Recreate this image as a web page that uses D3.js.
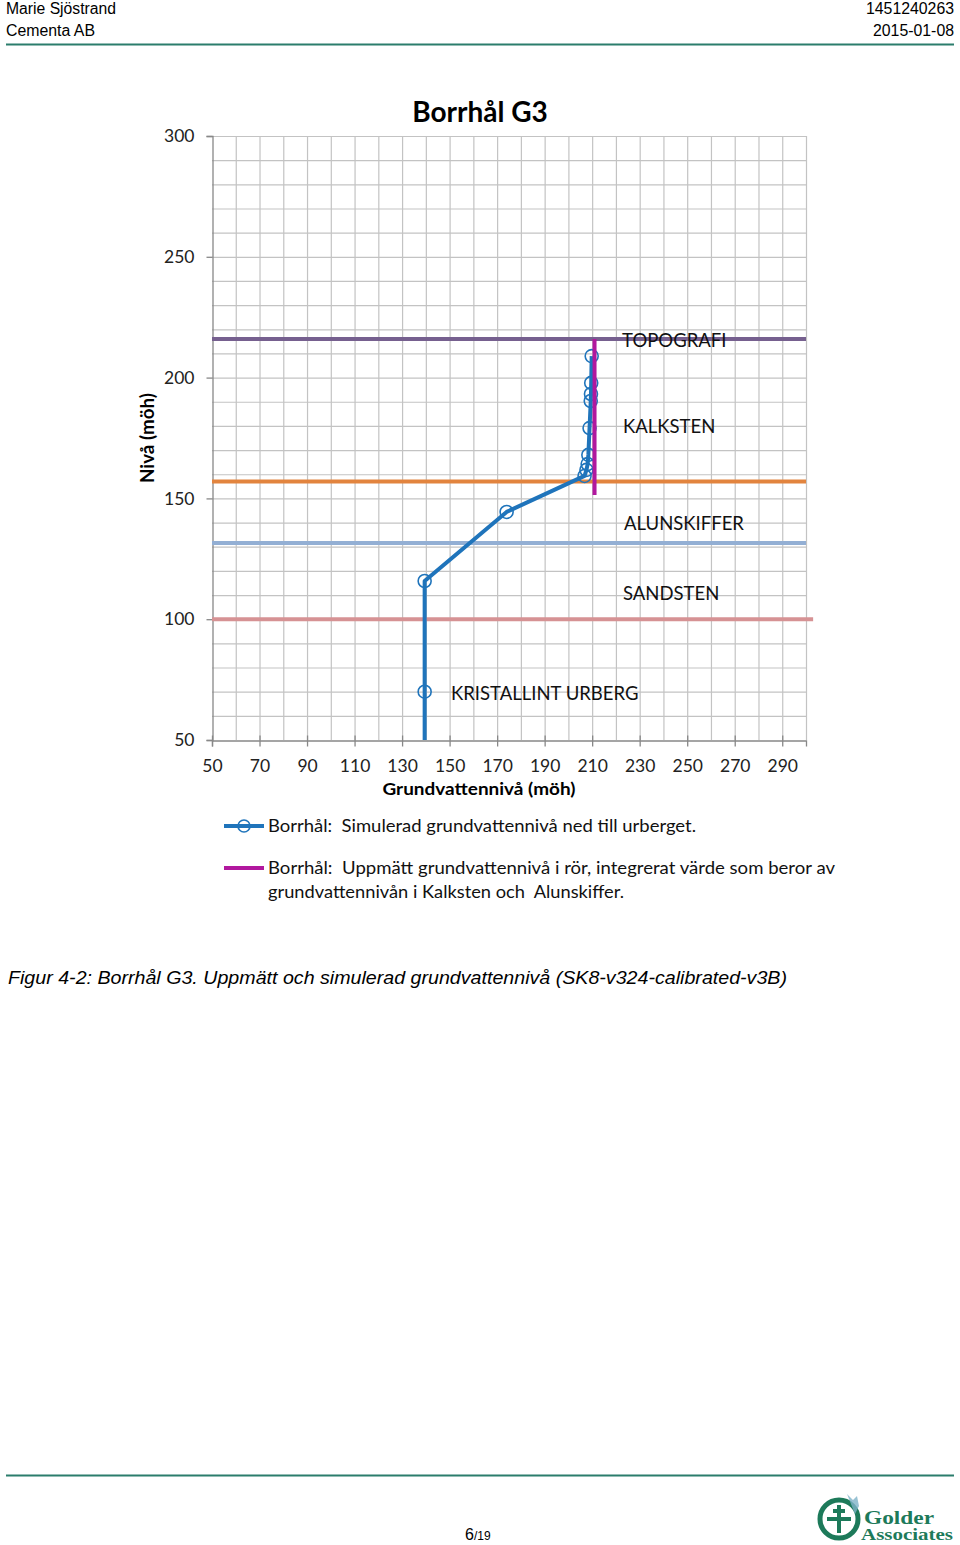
<!DOCTYPE html>
<html>
<head>
<meta charset="utf-8">
<script src="https://cdn.jsdelivr.net/npm/d3@7"></script>
<style>
  body { margin: 0; background: #fff; }
  svg { display: block; }
  text { white-space: pre; }
</style>
</head>
<body>
<svg></svg>
<script>
// simulated groundwater level (blue, with markers)
const simX = [139.5, 139.5, 139.5, 174, 206.8, 207.6, 208.1, 208.4, 208.9, 209.4, 209.5, 209.6, 209.8];
const simY = [40, 70, 115.8, 144.4, 159.3, 161.8, 164.2, 168.0, 179.1, 190.3, 193.2, 197.8, 208.9];

// measured level in the pipe (magenta)
const measX = [211, 211];
const measY = [151.4, 216];

// geological layer boundaries
const layerLevels = [216, 157, 131.5, 100];
const layerEnds = [300, 300, 300, 303];
const layerColors = ['#76608f', '#e2843e', '#93afd4', '#d69294'];

const layerNames = ['TOPOGRAFI', 'KALKSTEN', 'ALUNSKIFFER', 'SANDSTEN', 'KRISTALLINT URBERG'];
const layerLabelX = [222.6, 223, 223.4, 223, 150.6];
const layerLabelY = [215.2, 179.6, 139.8, 110.8, 69.4];

const xTicks = [50, 70, 90, 110, 130, 150, 170, 190, 210, 230, 250, 270, 290];
const yTicks = [50, 100, 150, 200, 250, 300];

const W = 960, H = 1545;
const plot = { left: 212, right: 806, top: 136, bottom: 740 };

const svg = d3.select('svg').attr('width', W).attr('height', H);

const x = d3.scaleLinear().domain([50, 300]).range([plot.left, plot.right]);
const y = d3.scaleLinear().domain([50, 300]).range([plot.bottom, plot.top]);

const teal = '#2b7d6c';
const font = 'Lato, "Open Sans", sans-serif';
const arial = '"Liberation Sans", Arial, sans-serif';

// page header
svg.append('text').attr('x', 6).attr('y', 14).text('Marie Sjöstrand')
	.attr('font-family', arial).attr('font-size', 16).attr('textLength', 110).attr('lengthAdjust', 'spacingAndGlyphs');
svg.append('text').attr('x', 6).attr('y', 36).text('Cementa AB')
	.attr('font-family', arial).attr('font-size', 16).attr('textLength', 89).attr('lengthAdjust', 'spacingAndGlyphs');
svg.append('text').attr('x', 954).attr('y', 14).text('1451240263').attr('text-anchor', 'end')
	.attr('font-family', arial).attr('font-size', 16).attr('textLength', 88).attr('lengthAdjust', 'spacingAndGlyphs');
svg.append('text').attr('x', 954).attr('y', 36).text('2015-01-08').attr('text-anchor', 'end')
	.attr('font-family', arial).attr('font-size', 16).attr('textLength', 81).attr('lengthAdjust', 'spacingAndGlyphs');
svg.append('line').attr('x1', 6).attr('x2', 954).attr('y1', 44.5).attr('y2', 44.5)
	.attr('stroke', teal).attr('stroke-width', 2);

// title
svg.append('text').attr('x', 480).attr('y', 122).attr('text-anchor', 'middle')
	.attr('font-family', font).attr('font-weight', 'bold').attr('font-size', 28)
	.text('Borrhål G3');

// grid
const g = svg.append('g');
g.selectAll('line.gx')
	.data(d3.range(60, 301, 10))
	.enter().append('line')
	.attr('class', 'gx')
	.attr('x1', d => x(d) + 0.5).attr('x2', d => x(d) + 0.5)
	.attr('y1', plot.top).attr('y2', plot.bottom)
	.attr('stroke', '#c3c3c3').attr('stroke-width', 1.2);
g.selectAll('line.gy')
	.data(d3.range(60, 301, 10))
	.enter().append('line')
	.attr('class', 'gy')
	.attr('x1', plot.left).attr('x2', plot.right + 0.5)
	.attr('y1', d => y(d) + 0.5).attr('y2', d => y(d) + 0.5)
	.attr('stroke', '#c3c3c3').attr('stroke-width', 1.2);

// axes
const axisColor = '#888';
const yAxis = g.append('g').attr('transform', `translate(${plot.left + 0.5},0)`)
	.call(d3.axisLeft(y).tickValues(yTicks).tickSize(6).tickPadding(12));
const xAxis = g.append('g').attr('transform', `translate(0,${plot.bottom + 0.5})`)
	.call(d3.axisBottom(x).tickValues(xTicks).tickSize(6).tickPadding(13));
[xAxis, yAxis].forEach(a => {
	a.select('.domain').attr('stroke', axisColor).attr('stroke-width', 1.3);
	a.selectAll('.tick line').attr('stroke', axisColor).attr('stroke-width', 1.3);
	a.selectAll('.tick text').attr('font-family', font).attr('font-size', 17.5).attr('fill', '#222');
});
xAxis.selectAll('.tick line').attr('y1', -5);

// axis titles
svg.append('text').attr('x', 479).attr('y', 795).attr('text-anchor', 'middle')
	.attr('font-family', font).attr('font-weight', 'bold').attr('font-size', 17.5)
	.attr('textLength', 193).attr('lengthAdjust', 'spacingAndGlyphs')
	.text('Grundvattennivå (möh)');
svg.append('text').attr('transform', 'translate(154,438) rotate(-90)').attr('text-anchor', 'middle')
	.attr('font-family', font).attr('font-weight', 'bold').attr('font-size', 18)
	.attr('textLength', 90).attr('lengthAdjust', 'spacingAndGlyphs')
	.text('Nivå (möh)');

// layer boundaries
g.selectAll('line.layer')
	.data(layerLevels)
	.enter().append('line')
	.attr('class', 'layer')
	.attr('x1', x(50)).attr('x2', (d, i) => x(layerEnds[i]))
	.attr('y1', d => y(d)).attr('y2', d => y(d))
	.attr('stroke', (d, i) => layerColors[i]).attr('stroke-width', 4);

// layer names
g.selectAll('text.layername')
	.data(layerNames)
	.enter().append('text')
	.attr('class', 'layername')
	.attr('x', (d, i) => x(layerLabelX[i]))
	.attr('y', (d, i) => y(layerLabelY[i]))
	.attr('dy', '0.35em')
	.attr('font-family', font).attr('font-size', 18.5).attr('fill', '#111')
	.text(d => d);

// simulated series
svg.append('clipPath').attr('id', 'clip').append('rect')
	.attr('x', plot.left).attr('y', plot.top).attr('width', plot.right - plot.left).attr('height', plot.bottom - plot.top);

const blue = '#1f74bb';
const magenta = '#b1189e';
const sim = simX.map((d, i) => [d, simY[i]]);
const line = d3.line().x(d => x(d[0])).y(d => y(d[1]));

const series = g.append('g').attr('clip-path', 'url(#clip)');
series.append('path')
	.datum(sim)
	.attr('d', line)
	.attr('fill', 'none').attr('stroke', blue).attr('stroke-width', 4).attr('stroke-linejoin', 'round');
series.selectAll('circle')
	.data(sim)
	.enter().append('circle')
	.attr('cx', d => x(d[0])).attr('cy', d => y(d[1])).attr('r', 6.5)
	.attr('fill', 'none').attr('stroke', blue).attr('stroke-width', 1.6);

series.append('path')
	.datum(measX.map((d, i) => [d, measY[i]]))
	.attr('d', line)
	.attr('fill', 'none').attr('stroke', magenta).attr('stroke-width', 4);

// legend
const legend = svg.append('g');
const legendText = (ty, txt, len) => legend.append('text').attr('x', 268).attr('y', ty).attr('dy', '0.35em')
	.attr('font-family', font).attr('font-size', 18).attr('fill', '#111')
	.attr('textLength', len).attr('lengthAdjust', 'spacingAndGlyphs')
	.text(txt);
legend.append('line').attr('x1', 224).attr('x2', 264).attr('y1', 826).attr('y2', 826)
	.attr('stroke', blue).attr('stroke-width', 4);
legend.append('circle').attr('cx', 244).attr('cy', 826).attr('r', 6)
	.attr('fill', 'none').attr('stroke', blue).attr('stroke-width', 1.6);
legendText(826, 'Borrhål:  Simulerad grundvattennivå ned till urberget.', 428);
legend.append('line').attr('x1', 224).attr('x2', 264).attr('y1', 868).attr('y2', 868)
	.attr('stroke', magenta).attr('stroke-width', 4);
legendText(868, 'Borrhål:  Uppmätt grundvattennivå i rör, integrerat värde som beror av', 567);
legendText(892, 'grundvattennivån i Kalksten och  Alunskiffer.', 356);

// caption
svg.append('text').attr('x', 8).attr('y', 984)
	.attr('font-family', arial).attr('font-style', 'italic').attr('font-size', 19)
	.attr('textLength', 779).attr('lengthAdjust', 'spacingAndGlyphs')
	.text('Figur 4-2: Borrhål G3. Uppmätt och simulerad grundvattennivå (SK8-v324-calibrated-v3B)');

// footer
svg.append('line').attr('x1', 6).attr('x2', 954).attr('y1', 1475.5).attr('y2', 1475.5)
	.attr('stroke', teal).attr('stroke-width', 2);
const pg = svg.append('text').attr('x', 465).attr('y', 1540).attr('font-family', arial);
pg.append('tspan').attr('font-size', 16).text('6');
pg.append('tspan').attr('font-size', 12).text('/19');

// Golder logo (approximation)
const logoGreen = '#1d7a5a';
const logo = svg.append('g');
logo.append('circle').attr('cx', 839).attr('cy', 1519).attr('r', 19)
	.attr('fill', 'none').attr('stroke', logoGreen).attr('stroke-width', 5);
logo.append('path').attr('d', 'M827,1519 H851 M839,1505 V1533 M833,1511 L845,1511')
	.attr('stroke', logoGreen).attr('stroke-width', 4).attr('fill', 'none');
logo.append('path').attr('d', 'M847,1494 l6,6 l4,-4 l2,10 l-4,8 z')
	.attr('fill', '#7fb3c8').attr('opacity', 0.8);
logo.append('text').attr('x', 864).attr('y', 1524).text('Golder')
	.attr('font-family', '"Liberation Serif", serif').attr('font-weight', 'bold').attr('font-size', 18)
	.attr('fill', logoGreen).attr('textLength', 70).attr('lengthAdjust', 'spacingAndGlyphs');
logo.append('text').attr('x', 861).attr('y', 1540).text('Associates')
	.attr('font-family', '"Liberation Serif", serif').attr('font-weight', 'bold').attr('font-size', 17)
	.attr('fill', logoGreen).attr('textLength', 92).attr('lengthAdjust', 'spacingAndGlyphs');
</script>
</body>
</html>
